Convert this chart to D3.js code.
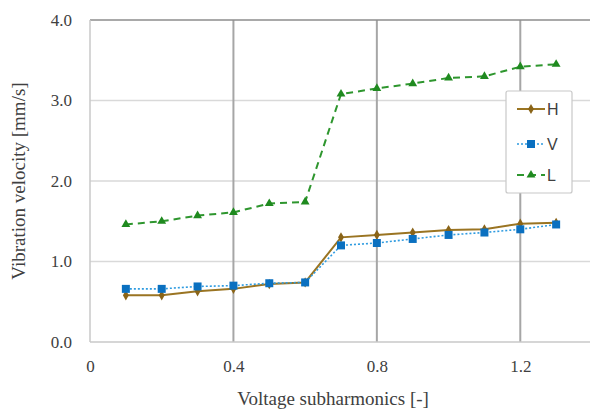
<!DOCTYPE html>
<html><head><meta charset="utf-8">
<script src="https://cdn.jsdelivr.net/npm/d3@7"></script>
<style>body{margin:0;background:#fff}svg{display:block}</style>
</head><body>
<svg id="c" width="590" height="412" style="font-family:'Liberation Serif'"></svg>
<script>
const xValues = [0.1,0.2,0.3,0.4,0.5,0.6,0.7,0.8,0.9,1.0,1.1,1.2,1.3];
const seriesH = [0.58,0.58,0.63,0.66,0.72,0.74,1.30,1.33,1.36,1.39,1.40,1.47,1.48];
const seriesV = [0.66,0.66,0.69,0.70,0.73,0.74,1.20,1.23,1.28,1.33,1.36,1.40,1.46];
const seriesL = [1.46,1.50,1.57,1.61,1.72,1.74,3.08,3.15,3.21,3.28,3.30,3.42,3.45];
const xTicks = [0,0.4,0.8,1.2];
const xTickLabels = ["0","0.4","0.8","1.2"];
const yTicks = [0,1,2,3,4];
const yTickLabels = ["0.0","1.0","2.0","3.0","4.0"];
const seriesNames = ["H","V","L"];

const SERIF = "'Liberation Serif'";
const SANS = "'Liberation Sans'";
const svg = d3.select("#c");
const m = {l:90, t:20, r:592, b:342};
const x = d3.scaleLinear().domain([0,1.4]).range([m.l, m.r]);
const y = d3.scaleLinear().domain([0,4]).range([m.b, m.t]);

function serifText(sel, size){
  return sel.attr("font-family","Liberation Serif").style("font-family",SERIF,"important").style("font-size",size+"px","important");
}

// horizontal grid
svg.append("g").selectAll("line").data([1,2,3]).join("line")
  .attr("x1", m.l).attr("x2", 590).attr("y1", d=>y(d)).attr("y2", d=>y(d))
  .attr("stroke","#d9d9d9").attr("stroke-width",1.5);
// vertical grid
svg.append("g").selectAll("line").data([0.4,0.8,1.2]).join("line")
  .attr("x1", d=>x(d)).attr("x2", d=>x(d)).attr("y1", m.t).attr("y2", m.b)
  .attr("stroke","#a6a6a6").attr("stroke-width",2);
// borders
svg.append("line").attr("x1",m.l).attr("x2",590).attr("y1",y(4)).attr("y2",y(4)).attr("stroke","#8c8c8c").attr("stroke-width",1.5);
svg.append("line").attr("x1",m.l).attr("x2",590).attr("y1",y(0)).attr("y2",y(0)).attr("stroke","#c8c8c8").attr("stroke-width",1.5);
svg.append("line").attr("x1",m.l).attr("x2",m.l).attr("y1",m.t).attr("y2",m.b).attr("stroke","#c8c8c8").attr("stroke-width",1.5);

// axes tick labels
const yAxis = d3.axisLeft(y).tickValues(yTicks).tickFormat((d,i)=>yTickLabels[i]).tickSize(0).tickPadding(0);
const gy = svg.append("g").attr("transform",`translate(${m.l-18},0)`).call(yAxis);
gy.attr("font-family","Liberation Serif");
gy.select(".domain").remove();
serifText(gy.selectAll("text"),17).attr("fill","#404040");
const xAxis = d3.axisBottom(x).tickValues(xTicks).tickFormat((d,i)=>xTickLabels[i]).tickSize(0).tickPadding(0);
const gx = svg.append("g").attr("transform",`translate(0,${m.b+18})`).call(xAxis);
gx.attr("font-family","Liberation Serif");
gx.select(".domain").remove();
serifText(gx.selectAll("text"),17).attr("fill","#404040");

serifText(svg.append("text"),19).attr("x",333).attr("y",405).attr("text-anchor","middle")
  .attr("fill","#404040").text("Voltage subharmonics [-]");
serifText(svg.append("text"),19).attr("transform","translate(25,181) rotate(-90)").attr("text-anchor","middle")
  .attr("fill","#404040").text("Vibration velocity [mm/s]");

const line = d3.line().x((d,i)=>x(xValues[i])).y(d=>y(d));
const cfg = [
  {data: seriesH, color:"#9a7422", dash:null, width:2, sym:d3.symbolDiamond, size:30, mcolor:"#8a6418"},
  {data: seriesV, color:"#2e9be0", dash:"2,2", width:1.6, sym:d3.symbolSquare, size:64, mcolor:"#0a70c0"},
  {data: seriesL, color:"#2e962e", dash:"7,5", width:2, sym:d3.symbolTriangle, size:34, mcolor:"#1f8a1f"}
];
cfg.forEach(c=>{
  svg.append("path").datum(c.data).attr("d",line).attr("fill","none")
    .attr("stroke",c.color).attr("stroke-width",c.width).attr("stroke-dasharray",c.dash);
  svg.append("g").selectAll("path").data(c.data).join("path")
    .attr("transform",(d,i)=>`translate(${x(xValues[i])},${y(d)})`)
    .attr("d",d3.symbol().type(c.sym).size(c.size)).attr("fill",c.mcolor);
});

// legend
const lg = svg.append("g");
lg.append("rect").attr("x",506).attr("y",91).attr("width",66).attr("height",102)
  .attr("fill","#fff").attr("stroke","#c8c8c8").attr("stroke-width",1.2).attr("rx",2);
const ly = [109,144,175];
cfg.forEach((c,i)=>{
  lg.append("line").attr("x1",517).attr("x2",545).attr("y1",ly[i]).attr("y2",ly[i])
    .attr("stroke",c.color).attr("stroke-width",c.width).attr("stroke-dasharray",c.dash);
  lg.append("path").attr("transform",`translate(531,${ly[i]})`)
    .attr("d",d3.symbol().type(c.sym).size(c.size)).attr("fill",c.mcolor);
  lg.append("text").style("font-family",SANS,"important").style("font-size","16px","important").attr("x",547).attr("y",ly[i]+6)
    .attr("fill","#404040").text(seriesNames[i]);
});
</script>
</body></html>
